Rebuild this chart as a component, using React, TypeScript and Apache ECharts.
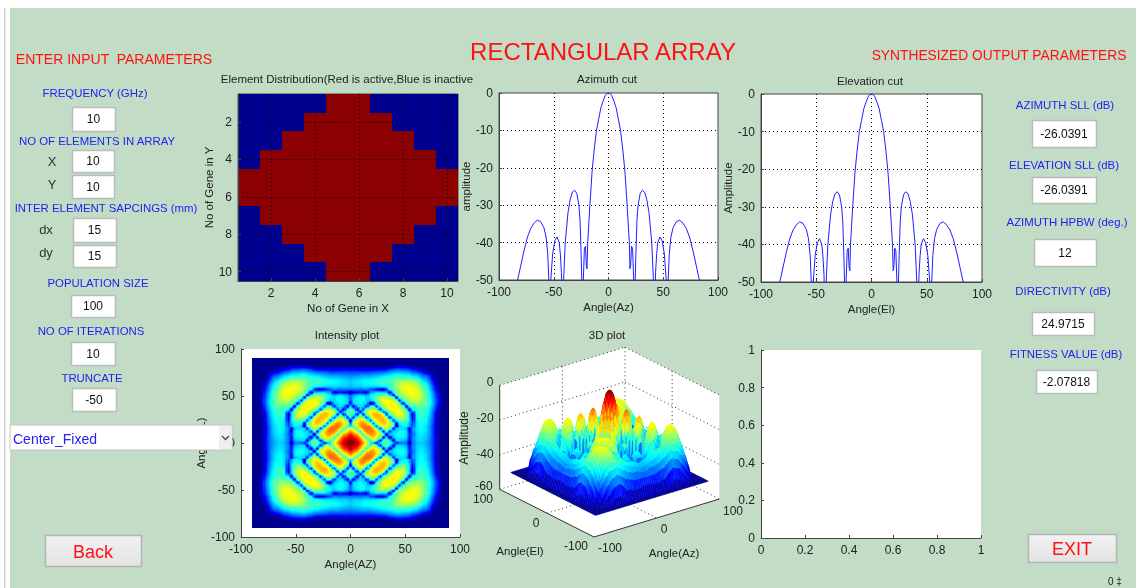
import React, { useEffect, useRef } from "react";
import * as echarts from "echarts";

const FONT = '"Liberation Sans", Arial, sans-serif';

// ---------- element distribution: first and last active column per row ----------
const ACTIVE_FROM = [5, 4, 3, 2, 1, 1, 2, 3, 4, 5];
const ACTIVE_TO = [6, 7, 8, 9, 10, 10, 9, 8, 7, 6];

// ---------- cuts ----------
const CUT_ANGLES = [-83, -80, -77, -74, -71, -68, -65, -62, -59, -57, -55.5, -54.5, -53.5, -52.7, -51, -49, -47, -45, -44, -43, -42, -41, -39.5, -37, -35, -33, -31, -29, -27, -26, -25, -24.4, -23.8, -23, -22, -21, -20.3, -19.6, -19, -18, -17, -15, -13, -11, -9, -7, -5, -3, -1, 0, 1, 3, 5, 7, 9, 11, 13, 15, 17, 18, 19, 19.6, 20.3, 21, 22, 23, 23.8, 24.4, 25, 26, 27, 29, 31, 33, 35, 37, 39.5, 41, 42, 43, 44, 45, 47, 49, 51, 52.7, 53.5, 54.5, 55.5, 57, 59, 62, 65, 68, 71, 74, 77, 80, 83];
const AZIMUTH_DB = [-50, -46, -42, -38.5, -36.2, -34.8, -34, -34.4, -36, -38.5, -43, -50, -60, -50, -43, -39.5, -38.5, -40, -43, -48, -60, -50, -40, -32, -28.5, -26.5, -26, -26.8, -30, -34, -43, -50, -60, -50, -41.5, -41, -46, -47, -40, -35, -30, -21, -15, -10, -7, -4, -2.2, -0.7, 0, 0, 0, -0.7, -2.2, -4, -7, -10, -15, -21, -30, -35, -40, -47, -46, -41, -41.5, -50, -60, -50, -43, -34, -30, -26.8, -26, -26.5, -28.5, -32, -40, -50, -60, -48, -43, -40, -38.5, -39.5, -43, -50, -60, -50, -43, -38.5, -36, -34.4, -34, -34.8, -36.2, -38.5, -42, -46, -50];
const ELEVATION_DB = [-50, -46, -42, -38.5, -36.2, -34.8, -34, -34.4, -36, -38.5, -43, -50, -60, -50, -43, -39.5, -38.5, -40, -43, -48, -60, -50, -40, -32, -28.5, -26.5, -26, -26.8, -30, -34, -43, -50, -60, -50, -41.5, -41, -46, -47, -40, -35, -30, -21, -15, -10, -7, -4, -2.2, -0.7, 0, 0, 0, -0.7, -2.2, -4, -7, -10, -15, -21, -30, -35, -40, -47, -46, -41, -41.5, -50, -60, -50, -43, -34, -30, -26.8, -26, -26.5, -28.5, -32, -40, -50, -60, -48, -43, -40, -38.5, -39.5, -43, -50, -60, -50, -43, -38.5, -36, -34.4, -34, -34.8, -36.2, -38.5, -42, -46, -50];

// ---------- intensity in dB, one list per elevation 0,3,...,90
// each list runs over azimuth from that elevation up to 90 in 3 degree steps;
// the picture is mirror-symmetric, so the other octants repeat these readings ----------
const GRID_STEP = 3;
const DB_TRIANGLE: number[][] = [
  [0, -0.7, -3, -7, -13, -20, -32, -41, -50, -28, -26.5, -26.5, -28, -32, -46, -40, -39, -39, -50, -38, -35, -34, -34, -35.5, -37.5, -40.5, -44.5, -50, -50, -50, -50],
  [-2, -6, -11, -17, -22, -30, -20, -26, -45, -28, -28, -30, -48, -33, -33, -34, -36, -44, -38, -34, -33, -33, -35, -37, -40, -44, -50, -50, -50, -50],
  [-9, -15, -22, -30, -18, -17, -21, -24, -46, -30, -47, -34, -32, -31.5, -32, -33, -44, -38, -33.5, -32.5, -32.5, -34, -37, -40, -44, -50, -50, -50, -50],
  [-22, -30, -17, -13.5, -14, -17, -21, -26, -50, -33, -33, -31, -30, -30.5, -33, -42, -39, -34, -32, -32, -34, -36, -40, -45, -50, -50, -50, -50],
  [-17, -12.5, -11.5, -13, -17, -25, -45, -26, -42, -33, -33, -31, -31, -33, -44, -38, -33, -31.5, -31.5, -33, -36, -40, -45, -50, -50, -50, -50],
  [-11, -12, -15, -24, -42, -24, -21, -25, -44, -33, -33, -33, -35, -46, -37, -33, -31, -31, -33, -36, -40, -45, -50, -50, -50, -50],
  [-14, -23, -42, -22, -18, -19, -23, -28, -50, -34, -32, -32, -36, -40, -33, -31, -31, -33, -36, -40, -45, -50, -50, -50, -50],
  [-40, -22, -17, -16, -17, -22, -27, -48, -31, -30, -30, -35, -41, -33, -30.5, -30.5, -32, -35, -39, -45, -50, -50, -50, -50],
  [-18, -15.5, -15, -17, -23, -42, -30, -27, -26, -27, -33, -44, -33, -30, -30, -31.5, -35, -39, -44, -50, -50, -50, -50],
  [-15, -16, -21, -44, -28, -24, -22.5, -23, -26, -33, -46, -32, -29, -29, -31, -34, -38, -44, -50, -50, -50, -50],
  [-21, -44, -27, -23, -20, -19.5, -21, -25, -34, -47, -31, -28, -28, -30, -33, -38, -44, -50, -50, -50, -50],
  [-34, -24, -20, -18.5, -19, -22, -25, -34, -42, -31, -29, -29, -30, -33, -37, -43, -50, -50, -50, -50],
  [-21, -18.5, -18, -20, -24, -29, -48, -31, -29, -28, -28, -29, -32, -36, -41, -48, -50, -50, -50],
  [-18, -19, -22, -26, -48, -30, -28, -27, -27, -27, -28, -31, -35, -40, -47, -50, -50, -50],
  [-21, -25, -47, -28, -26, -25, -24, -24, -25, -27, -30, -34, -39, -46, -50, -50, -50],
  [-44, -27, -25, -24, -22, -22, -23, -24.5, -27, -30, -34, -39, -45, -50, -50, -50],
  [-26, -23, -21.5, -20, -20, -21.5, -24, -27, -31, -35, -40, -46, -50, -50, -50],
  [-21.5, -20, -19.5, -19.5, -21, -24, -27, -31, -35, -40, -46, -50, -50, -50],
  [-19.5, -19, -19.5, -21, -24, -27, -31, -36, -41, -47, -50, -50, -50],
  [-19, -20, -22, -25, -29, -33, -38, -43, -48, -50, -50, -50],
  [-21, -24, -27, -30, -34, -39, -44, -50, -50, -50, -50],
  [-26, -29, -32, -36, -41, -46, -50, -50, -50, -50],
  [-32, -35, -38, -43, -48, -50, -50, -50, -50],
  [-36, -40, -45, -50, -50, -50, -50, -50],
  [-42, -47, -50, -50, -50, -50, -50],
  [-48, -50, -50, -50, -50, -50],
  [-50, -50, -50, -50, -50],
  [-50, -50, -50, -50],
  [-50, -50, -50],
  [-50, -50],
  [-50],
];
const GRID_N = DB_TRIANGLE.length - 1;

const readDb = (ia: number, ie: number) => {
  const p = Math.min(GRID_N, Math.abs(ia)), q = Math.min(GRID_N, Math.abs(ie));
  const lo = Math.min(p, q), hi = Math.max(p, q);
  return DB_TRIANGLE[lo][hi - lo];
};

// ---------- colour ----------
const JET: [number, number[]][] = [
  [0, [0, 0, 143]], [0.125, [0, 0, 255]], [0.375, [0, 255, 255]],
  [0.625, [255, 255, 0]], [0.875, [255, 0, 0]], [1, [128, 0, 0]],
];
const jetColor = (db: number) => {
  const t = Math.max(0, Math.min(1, (db + 50) / 50));
  for (let k = 1; k < JET.length; k++) {
    if (t <= JET[k][0]) {
      const f = (t - JET[k - 1][0]) / (JET[k][0] - JET[k - 1][0]);
      const c = JET[k - 1][1].map((v, n) => Math.round(v + f * (JET[k][1][n] - v)));
      return `rgb(${c[0]},${c[1]},${c[2]})`;
    }
  }
  return "rgb(128,0,0)";
};

// ---------- 3D box: where the box corners fall ----------
const BOX_FRONT = [594, 537];
const BOX_RIGHT = [719.3, 499];
const BOX_LEFT = [499.7, 489.3];
const BOX_HEIGHT = 104;
const project = (az: number, el: number, db: number) => {
  const a = (az + 100) / 200, e = (el + 100) / 200, z = (db + 60) / 60;
  return [
    BOX_FRONT[0] + a * (BOX_RIGHT[0] - BOX_FRONT[0]) + e * (BOX_LEFT[0] - BOX_FRONT[0]),
    BOX_FRONT[1] + a * (BOX_RIGHT[1] - BOX_FRONT[1]) + e * (BOX_LEFT[1] - BOX_FRONT[1]) - z * BOX_HEIGHT,
  ];
};

// ---------- graphic helpers ----------
const BLUE = "#2222ee";
const DARK = "#222222";
const RED = "#ff1111";
const txt = (text: string, x: number, y: number, fill: string, size = 11.4, align = "center", rotation = 0, z = 100): any => ({
  type: "text", x, y, rotation, z, silent: true,
  style: { text, fill, font: `${size}px ${FONT}`, align, verticalAlign: "middle" },
});
const box = (x0: number, y0: number, x1: number, y1: number, text: string): any[] => [
  { type: "rect", z: 100, silent: true, shape: { x: x0 + 0.5, y: y0 + 0.5, width: x1 - x0, height: y1 - y0 }, style: { fill: "#ffffff", stroke: "#b9bcbb", lineWidth: 1.5 } },
  txt(text, (x0 + x1) / 2, (y0 + y1) / 2, "#111111", 12),
];
const button = (x0: number, y0: number, x1: number, y1: number, text: string, size: number): any[] => [
  {
    type: "rect", z: 100, silent: true, shape: { x: x0 + 0.5, y: y0 + 0.5, width: x1 - x0, height: y1 - y0 },
    style: {
      stroke: "#b4b4b4", lineWidth: 1.5,
      fill: new echarts.graphic.LinearGradient(0, 0, 0, 1, [{ offset: 0, color: "#f2f2f2" }, { offset: 1, color: "#e2e2e2" }]),
    },
  },
  txt(text, (x0 + x1) / 2, (y0 + y1) / 2 + 1, RED, size),
];
const seg = (p: number[], q: number[], isDotted: boolean, z = 1): any => ({
  type: "line", z, silent: true,
  shape: { x1: p[0], y1: p[1], x2: q[0], y2: q[1] },
  style: { stroke: "#333333", lineWidth: 1, lineDash: isDotted ? [1, 3] : undefined },
});

const axisCommon = (gridIndex: number, name: string, min: number, max: number, interval: number | null, gap: number): any => ({
  type: "value", gridIndex, name, min, max,
  ...(interval === null ? { splitNumber: 5 } : { interval }),
  nameLocation: "middle", nameGap: gap,
  nameTextStyle: { color: DARK, fontFamily: FONT, fontSize: 11.5 },
  axisLine: { show: true, onZero: false, lineStyle: { color: "#444444", width: 1 } },
  axisTick: { show: true, inside: true, length: 3, lineStyle: { color: "#444444" } },
  axisLabel: { color: DARK, fontFamily: FONT, fontSize: 12, margin: 6, hideOverlap: false, showMinLabel: true, showMaxLabel: true },
  splitLine: { show: false },
});
const dotted = { show: true, showMinLine: false, showMaxLine: false, lineStyle: { color: "#000000", type: [1, 3] as any, width: 1 } };

export default function App() {
  const ref = useRef<HTMLDivElement>(null);
  useEffect(() => {
    const chart = echarts.init(ref.current!, undefined, { renderer: "svg" });

    const elementData: number[][] = [];
    ACTIVE_FROM.forEach((from, r) => {
      for (let c = 1; c <= 10; c++) elementData.push([c, r + 1, c >= from && c <= ACTIVE_TO[r] ? 1 : 0]);
    });
    const azData = CUT_ANGLES.map((a, i) => [a, AZIMUTH_DB[i]]);
    const elData = CUT_ANGLES.map((a, i) => [a, ELEVATION_DB[i]]);

    const intensityData: number[][] = [];
    for (let ie = -GRID_N; ie <= GRID_N; ie++)
      for (let ia = -GRID_N; ia <= GRID_N; ia++)
        intensityData.push([ia * GRID_STEP, ie * GRID_STEP, readDb(ia, ie)]);

    const surfaceData: number[][] = [];
    for (let ia = GRID_N; ia > -GRID_N; ia--)
      for (let ie = GRID_N; ie > -GRID_N; ie--) surfaceData.push([ia, ie]);

    const cornerPts = [
      project(-100, 100, 0), project(100, 100, 0), project(100, -100, 0),
      project(100, -100, -60), project(-100, -100, -60), project(-100, 100, -60),
    ];
    const graphics: any[] = [
      { type: "rect", z: -2, silent: true, shape: { x: 0, y: 0, width: 1136, height: 588 }, style: { fill: "#ffffff" } },
      { type: "rect", z: -2, silent: true, shape: { x: 4, y: 8, width: 1.5, height: 580 }, style: { fill: "#cfcfcf" } },
      { type: "rect", z: -1, silent: true, shape: { x: 10, y: 8, width: 1126, height: 580 }, style: { fill: "#c2dcc6" } },
      { type: "polygon", z: 1, silent: true, shape: { points: cornerPts }, style: { fill: "#ffffff" } },
    ];
    [0, -20, -40, -60].forEach((d) => {
      graphics.push(seg(project(-100, 100, d), project(100, 100, d), true));
      graphics.push(seg(project(100, 100, d), project(100, -100, d), true));
    });
    graphics.push(seg(project(0, 100, 0), project(0, 100, -60), true));
    graphics.push(seg(project(100, 100, 0), project(100, 100, -60), true));
    graphics.push(seg(project(100, 0, 0), project(100, 0, -60), true));
    graphics.push(seg(project(0, 100, -60), project(0, -100, -60), true));
    graphics.push(seg(project(-100, 0, -60), project(100, 0, -60), true));
    graphics.push(seg(project(-100, 100, 0), project(-100, 100, -60), false, 3));
    graphics.push(seg(project(-100, 100, -60), project(-100, -100, -60), false, 3));
    graphics.push(seg(project(-100, -100, -60), project(100, -100, -60), false, 3));

    graphics.push(
      txt("RECTANGULAR ARRAY", 603, 51, RED, 24),
      txt("ENTER INPUT  PARAMETERS", 114, 59, RED, 14),
      txt("SYNTHESIZED OUTPUT PARAMETERS", 999, 55, RED, 13.8),
      txt("FREQUENCY (GHz)", 95, 93, BLUE),
      txt("NO OF ELEMENTS IN ARRAY", 97, 141, BLUE),
      txt("X", 52, 161, "#333333", 13),
      txt("Y", 52, 184, "#333333", 13),
      txt("INTER ELEMENT SAPCINGS (mm)", 106, 208, BLUE),
      txt("dx", 46, 229, "#333333", 13),
      txt("dy", 46, 252, "#333333", 13),
      txt("POPULATION SIZE", 98, 283, BLUE),
      txt("NO OF ITERATIONS", 91, 331, BLUE),
      txt("TRUNCATE", 92, 378, BLUE),
      ...box(72, 107, 115, 131, "10"),
      ...box(72, 150, 114, 172, "10"),
      ...box(72, 175, 114, 198, "10"),
      ...box(73, 218, 116, 242, "15"),
      ...box(73, 245, 116, 267, "15"),
      ...box(71, 295, 115, 317, "100"),
      ...box(71, 342, 115, 365, "10"),
      ...box(72, 388, 116, 411, "-50"),
      { type: "rect", z: 100, silent: true, shape: { x: 10, y: 425, width: 222, height: 25 }, style: { fill: "#ffffff", stroke: "#c4c4c4", lineWidth: 1 } },
      { type: "rect", z: 100, silent: true, shape: { x: 219, y: 426, width: 12.5, height: 23 }, style: { fill: "#eeeeee" } },
      { type: "polyline", z: 101, silent: true, shape: { points: [[222, 436], [225.5, 439.5], [229, 436]] }, style: { stroke: "#444444", lineWidth: 1.3, fill: "none" } },
      txt("Center_Fixed", 13, 439, BLUE, 14, "left"),
      ...button(45, 535, 141, 566, "Back", 18),
      ...button(1028, 534, 1116, 562, "EXIT", 18),
      txt("AZIMUTH SLL (dB)", 1065, 105, BLUE),
      txt("ELEVATION SLL (dB)", 1064, 165, BLUE),
      txt("AZIMUTH HPBW (deg.)", 1067, 222, BLUE),
      txt("DIRECTIVITY (dB)", 1063, 291, BLUE),
      txt("FITNESS VALUE (dB)", 1066, 354, BLUE),
      ...box(1032, 120, 1096, 147, "-26.0391"),
      ...box(1032, 177, 1096, 203, "-26.0391"),
      ...box(1034, 239, 1096, 266, "12"),
      ...box(1032, 312, 1094, 335, "24.9715"),
      ...box(1036, 370, 1097, 393, "-2.07818"),
      txt("Element Distribution(Red is active,Blue is inactive", 347, 79, DARK, 11.5),
      txt("Azimuth cut", 607, 79, DARK, 11.5),
      txt("Elevation cut", 870, 81, DARK, 11.5),
      txt("Intensity plot", 347, 335, DARK, 11.5),
      txt("3D plot", 607, 335, DARK, 11.5),
      txt("0", 490, 382, DARK, 12),
      txt("-20", 485, 418, DARK, 12),
      txt("-40", 485, 454, DARK, 12),
      txt("-60", 484, 486, DARK, 12),
      txt("Amplitude", 464, 438, DARK, 12, "center", Math.PI / 2),
      txt("100", 483, 499, DARK, 12),
      txt("0", 536, 523, DARK, 12),
      txt("-100", 576, 546, DARK, 12),
      txt("-100", 610, 548, DARK, 12),
      txt("0", 664, 529, DARK, 12),
      txt("100", 733, 511, DARK, 12),
      txt("Angle(El)", 520, 551, DARK, 11.5),
      txt("Angle(Az)", 674, 553, DARK, 11.5),
      txt("0 ‡", 1108, 581, DARK, 10, "left")
    );

    const gridBase = { show: true, backgroundColor: "#ffffff", borderColor: "#444444", borderWidth: 1, containLabel: false };
    const hiddenEnds = { ...axisCommon(0, "", 0, 1, 1, 0).axisLabel, showMinLabel: false, showMaxLabel: false };
    const SHADE = [-1 / 3, 0, 1 / 3];
    const option: any = {
      animation: false,
      graphic: graphics,
      grid: [
        { ...gridBase, left: 238, top: 94, width: 220, height: 187 },
        { ...gridBase, left: 499, top: 93, width: 219, height: 187 },
        { ...gridBase, left: 761, top: 94, width: 221, height: 188 },
        { ...gridBase, borderWidth: 0, left: 241, top: 349, width: 219, height: 188 },
        { ...gridBase, borderWidth: 0, left: 761, top: 350, width: 220, height: 188 },
      ],
      xAxis: [
        { ...axisCommon(0, "No of Gene in X", 0.5, 10.5, null, 21), z: 10, axisLabel: hiddenEnds, splitLine: dotted },
        { ...axisCommon(1, "Angle(Az)", -100, 100, 50, 21), splitLine: dotted },
        { ...axisCommon(2, "Angle(El)", -100, 100, 50, 21), splitLine: dotted },
        axisCommon(3, "Angle(AZ)", -100, 100, 50, 21),
        axisCommon(4, "", 0, 1, 0.2, 21),
      ],
      yAxis: [
        { ...axisCommon(0, "No of Gene in Y", 0.5, 10.5, null, 21), inverse: true, z: 10, axisLabel: hiddenEnds, splitLine: dotted },
        { ...axisCommon(1, "amplitude", -50, 0, 10, 22), splitLine: dotted },
        { ...axisCommon(2, "Amplitude", -50, 0, 10, 24), splitLine: dotted },
        axisCommon(3, "Angle(EL)", -100, 100, 50, 30),
        axisCommon(4, "", 0, 1, 0.2, 21),
      ],
      series: [
        {
          type: "custom", xAxisIndex: 0, yAxisIndex: 0, data: elementData, silent: true, clip: true,
          renderItem: (_: any, api: any) => {
            const c = api.value(0), r = api.value(1);
            const p0 = api.coord([c - 0.5, r - 0.5]), p1 = api.coord([c + 0.5, r + 0.5]);
            const x0 = Math.round(p0[0]), y0 = Math.round(p0[1]);
            return {
              type: "rect",
              shape: { x: x0, y: y0, width: Math.round(p1[0]) - x0, height: Math.round(p1[1]) - y0 },
              style: { fill: api.value(2) ? "#8b0000" : "#00008f" },
            };
          },
        },
        { type: "line", xAxisIndex: 1, yAxisIndex: 1, data: azData, showSymbol: false, silent: true, clip: true, lineStyle: { color: "#1f1fff", width: 1 } },
        { type: "line", xAxisIndex: 2, yAxisIndex: 2, data: elData, showSymbol: false, silent: true, clip: true, lineStyle: { color: "#1f1fff", width: 1 } },
        {
          type: "custom", xAxisIndex: 3, yAxisIndex: 3, data: intensityData, silent: true,
          renderItem: (_: any, api: any) => {
            // each reading is drawn as a small shaded patch that blends towards its neighbours
            const edge = GRID_N;
            const ia = api.value(0) / GRID_STEP, ie = api.value(1) / GRID_STEP;
            const children: any[] = [];
            SHADE.forEach((fx) => {
              SHADE.forEach((fy) => {
                const sx = fx < 0 ? -1 : 1, sy = fy < 0 ? -1 : 1;
                const wx = Math.abs(fx), wy = Math.abs(fy);
                const db =
                  (1 - wx) * (1 - wy) * readDb(ia, ie) +
                  wx * (1 - wy) * readDb(ia + sx, ie) +
                  (1 - wx) * wy * readDb(ia, ie + sy) +
                  wx * wy * readDb(ia + sx, ie + sy);
                const xa = Math.max(-edge, ia + fx - 1 / 6), xb = Math.min(edge, ia + fx + 1 / 6);
                const ya = Math.max(-edge, ie + fy - 1 / 6), yb = Math.min(edge, ie + fy + 1 / 6);
                if (xb <= xa || yb <= ya) return;
                const p0 = api.coord([xa * GRID_STEP, yb * GRID_STEP]);
                const p1 = api.coord([xb * GRID_STEP, ya * GRID_STEP]);
                const x0 = Math.round(p0[0]), y0 = Math.round(p0[1]);
                const w = Math.round(p1[0]) - x0, h = Math.round(p1[1]) - y0;
                if (w <= 0 || h <= 0) return;
                children.push({ type: "rect", shape: { x: x0, y: y0, width: w, height: h }, style: { fill: jetColor(db) } });
              });
            });
            return { type: "group", children };
          },
        },
        {
          type: "custom", coordinateSystem: "none", data: surfaceData, silent: true,
          renderItem: (_: any, api: any) => {
            const ia = api.value(0), ie = api.value(1);
            const corners = [[ia, ie], [ia - 1, ie], [ia - 1, ie - 1], [ia, ie - 1]];
            const dbs = corners.map((c) => readDb(c[0], c[1]));
            const mean = (dbs[0] + dbs[1] + dbs[2] + dbs[3]) / 4;
            const color = jetColor(mean);
            return {
              type: "polygon",
              shape: { points: corners.map((c, n) => project(c[0] * GRID_STEP, c[1] * GRID_STEP, dbs[n])) },
              style: { fill: color, stroke: color, lineWidth: 0.5 },
            };
          },
        },
      ],
    };
    chart.setOption(option);
    return () => chart.dispose();
  }, []);
  return <div ref={ref} style={{ position: "fixed", left: 0, top: 0, width: 1136, height: 588, overflow: "hidden" }} />;
}
